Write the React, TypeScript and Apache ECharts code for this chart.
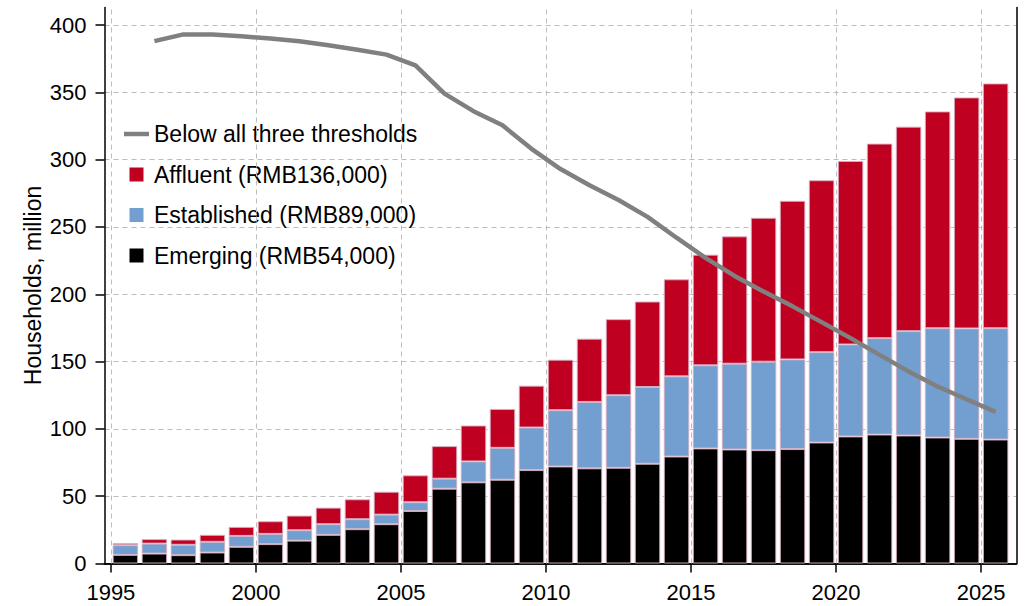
import React, { useEffect, useRef } from "react";
import * as echarts from "echarts";

const barYears = [1995,1996,1997,1998,1999,2000,2001,2002,2003,2004,2005,2006,2007,2008,2009,2010,2011,2012,2013,2014,2015,2016,2017,2018,2019,2020,2021,2022,2023,2024,2025];
const emerging = [6.4,7.4,6.2,8.2,12.4,14.4,17.0,21.3,25.5,29.2,39.0,55.6,60.3,62.2,69.4,72.1,70.7,71.1,74.1,79.5,85.5,84.7,84.2,85.0,89.9,94.4,95.8,95.1,93.6,92.6,92.1];
const established = [7.2,7.4,7.7,7.9,8.1,7.6,7.7,7.9,7.4,7.1,6.5,7.4,15.5,23.7,31.6,41.8,49.3,53.9,57.0,59.5,61.7,63.7,65.7,66.6,67.1,68.3,71.6,77.5,81.2,82.0,82.7];
const affluent = [1.5,3.3,3.9,5.2,6.7,9.4,10.9,12.3,14.8,17.0,20.0,24.2,26.7,28.9,31.1,37.5,47.0,56.5,63.5,72.1,82.2,94.6,106.9,117.8,127.7,136.3,144.5,151.9,161.0,171.6,181.8];

const lineYears = [1996,1997,1998,1999,2000,2001,2002,2003,2004,2005,2006,2007,2008,2009,2010,2011,2012,2013,2014,2015,2016,2017,2018,2019,2020,2021,2022,2023,2024,2025];
const belowAll = [388,393,393,391.6,390,388,385,381.6,378,370,349,336,325.5,308,293,281,270,257.5,242,227,213.6,202,191,179.3,167.4,155,142.7,131.5,122,112.6];

const xTicks = [1995,2000,2005,2010,2015,2020,2025];
const yTicks = [0,50,100,150,200,250,300,350,400];

const seriesNames = {
  line: "Below all three thresholds",
  affluent: "Affluent (RMB136,000)",
  established: "Established (RMB89,000)",
  emerging: "Emerging (RMB54,000)",
};

const FONT = "Liberation Sans";

export default function App() {
  const ref = useRef<HTMLDivElement>(null);
  useEffect(() => {
    if (!ref.current) return;
    const chart = echarts.init(ref.current, null, { renderer: "svg" });
    const mid = (y: number) => y + 0.5;
    const barStyle = (color: string) => ({
      color,
      borderColor: "rgba(215,175,195,0.9)",
      borderWidth: 1,
    });
    const xMin = 1994.78;
    const xMax = 2026.22;
    const yMax = 413;
    const gridLine = { type: [5, 4], color: "#bdbdbd", width: 1 };
    const square = "path://M0,0h14v14h-14z";
    const barSeries = (name: string, values: number[], color: string) => ({
      type: "bar",
      name,
      stack: "total",
      barWidth: 25.5,
      itemStyle: barStyle(color),
      encode: { x: 1, y: 0 },
      data: barYears.map((y, i) => [values[i], mid(y)]),
    });
    chart.setOption({
      animation: false,
      backgroundColor: "#fff",
      grid: { left: 104.5, right: 15.5, top: 7.5, bottom: 42.5, containLabel: false },
      legend: {
        orient: "vertical",
        left: 124,
        top: 122.5,
        padding: 0,
        itemGap: 17.5,
        itemWidth: 25,
        itemHeight: 14,
        symbolKeepAspect: true,
        itemStyle: { borderWidth: 0 },
        textStyle: { fontSize: 23, color: "#000", fontFamily: FONT, lineHeight: 23 },
        data: [
          { name: seriesNames.line, icon: "path://M0,0h25v4.5h-25z", itemStyle: { color: "#808080", borderWidth: 0 } },
          { name: seriesNames.affluent, icon: square, itemStyle: { borderWidth: 0 } },
          { name: seriesNames.established, icon: square, itemStyle: { borderWidth: 0 } },
          { name: seriesNames.emerging, icon: square, itemStyle: { borderWidth: 0 } },
        ],
      },
      xAxis: [
        {
          type: "value",
          min: xMin,
          max: xMax,
          axisLine: { show: true, lineStyle: { color: "#000", width: 1.5 } },
          axisTick: { show: true, length: 9, customValues: xTicks, lineStyle: { color: "#000", width: 1.5 } },
          axisLabel: {
            customValues: xTicks,
            fontSize: 22,
            color: "#000",
            fontFamily: FONT,
            margin: 18,
            formatter: (v: number) => String(Math.round(v)),
          },
          splitLine: { show: false },
        },
        {
          type: "value",
          position: "top",
          min: xMin,
          max: xMax,
          axisLine: { show: true, lineStyle: { color: "#000", width: 1.5 } },
          axisTick: { show: false },
          axisLabel: { show: false },
          splitLine: { show: false },
        },
      ],
      yAxis: [
        {
          type: "value",
          min: 0,
          max: yMax,
          interval: 50,
          name: "Households, million",
          nameLocation: "middle",
          nameGap: 60,
          nameMoveOverlap: false,
          nameTextStyle: { fontSize: 23, color: "#000", fontFamily: FONT },
          axisLine: { show: true, lineStyle: { color: "#000", width: 1.5 } },
          axisTick: { show: true, length: 9, customValues: yTicks, lineStyle: { color: "#000", width: 1.5 } },
          axisLabel: {
            customValues: yTicks,
            fontSize: 22,
            color: "#000",
            fontFamily: FONT,
            margin: 18,
            formatter: (v: number) => String(Math.round(v)),
          },
          splitLine: { show: true, lineStyle: gridLine },
        },
        {
          type: "value",
          position: "right",
          min: 0,
          max: yMax,
          axisLine: { show: true, lineStyle: { color: "#000", width: 1.5 } },
          axisTick: { show: false },
          axisLabel: { show: false },
          splitLine: { show: false },
        },
      ],
      series: [
        {
          type: "line",
          name: "__grid",
          data: [],
          z: 1,
          silent: true,
          markLine: {
            silent: true,
            symbol: "none",
            label: { show: false },
            lineStyle: gridLine,
            data: xTicks.map((x) => ({ xAxis: x })),
          },
        },
        barSeries(seriesNames.emerging, emerging, "#000000"),
        barSeries(seriesNames.established, established, "#729fcf"),
        barSeries(seriesNames.affluent, affluent, "#c00020"),
        {
          type: "line",
          name: seriesNames.line,
          z: 5,
          symbol: "none",
          showSymbol: false,
          lineStyle: { color: "#808080", width: 4.5 },
          itemStyle: { color: "#808080" },
          data: lineYears.map((y, i) => [mid(y), belowAll[i]]),
        },
      ],
    });
    return () => chart.dispose();
  }, []);
  return (
    <div
      ref={ref}
      style={{ position: "fixed", left: 0, top: 0, width: 1032, height: 606, background: "#fff" }}
    />
  );
}
